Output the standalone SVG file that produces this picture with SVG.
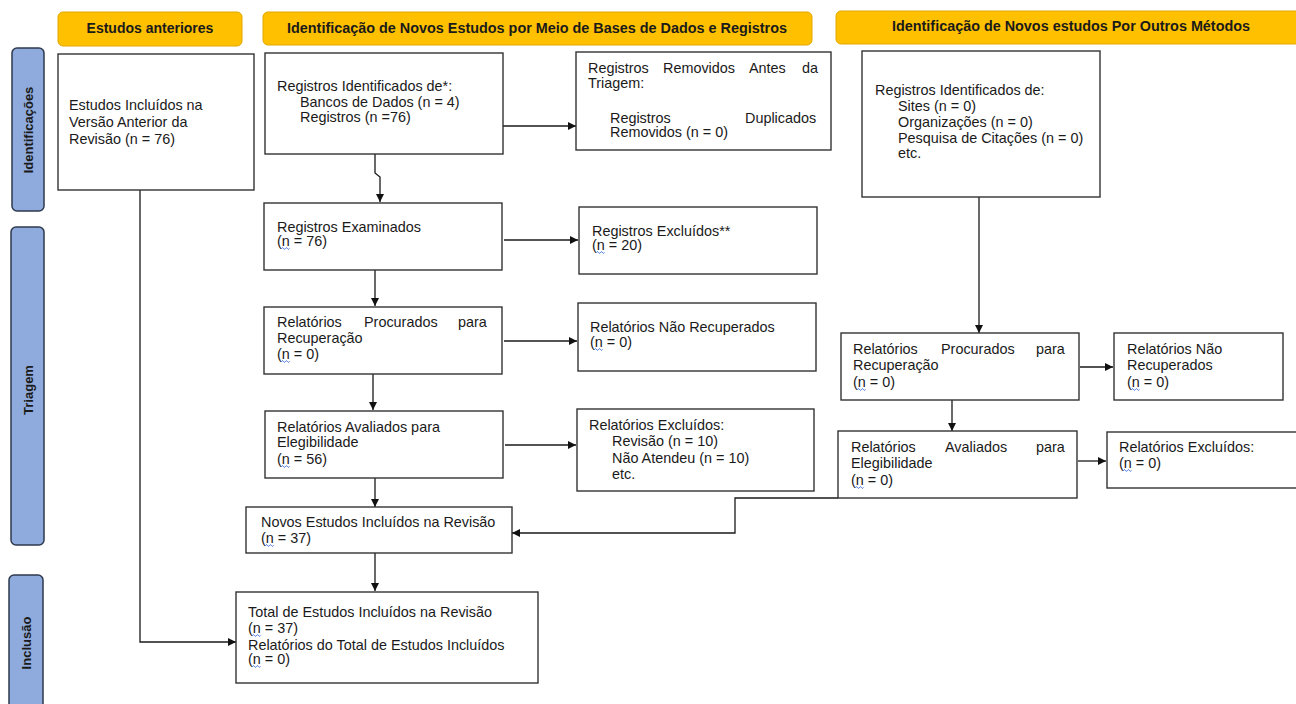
<svg xmlns="http://www.w3.org/2000/svg" xmlns:xlink="http://www.w3.org/1999/xlink" width="1296" height="704" viewBox="0 0 1296 704">
<style>
text{font-family:"Liberation Sans",Arial,sans-serif;fill:#1a1a1a}
.t{font-size:14.4px}
.h{font-size:14px;font-weight:bold;text-anchor:middle}
.s{font-size:13px;font-weight:bold;text-anchor:middle;dominant-baseline:central}
.box{fill:#fff;stroke:#333;stroke-width:1.4}
.hdr{fill:#FFC000;stroke:#E0A800;stroke-width:1}
.side{fill:#8FAADC;stroke:#2E3A4E;stroke-width:1.5}
.c{fill:none;stroke:#1a1a1a;stroke-width:1.3}
.sq{fill:none;stroke:#2B5FD9;stroke-width:0.9}
</style>
<defs>
<marker id="ah" viewBox="0 0 10 10" refX="10" refY="5" markerWidth="8" markerHeight="8" markerUnits="userSpaceOnUse" orient="auto">
<path d="M0,0 L10,5 L0,10 z" fill="#111"/>
</marker>
<path id="sqg" class="sq" d="M0,0 q1,-1.6 2,0 t2,0 t2,0 t2,0"/>
</defs>
<rect width="1296" height="704" fill="#fff"/>

<g id="headers">
<g id="h1"><rect class="hdr" x="58" y="12" width="184" height="34" rx="5"/><text class="h" x="150" y="33">Estudos anteriores</text></g>
<g id="h2"><rect class="hdr" x="263" y="12" width="549" height="33" rx="5"/><text class="h" x="537" y="33" textLength="500" lengthAdjust="spacingAndGlyphs">Identificação de Novos Estudos por Meio de Bases de Dados e Registros</text></g>
<g id="h3"><rect class="hdr" x="836" y="11" width="474" height="33" rx="5"/><text class="h" x="1071" y="31" textLength="358" lengthAdjust="spacingAndGlyphs">Identificação de Novos estudos Por Outros Métodos</text></g>
</g>

<g id="sides">
<g id="s1"><rect class="side" x="12" y="48" width="32" height="163" rx="5"/><text class="s" transform="translate(28,130) rotate(-90)">Identificações</text></g>
<g id="s2"><rect class="side" x="11" y="227" width="33" height="318" rx="5"/><text class="s" transform="translate(28,390) rotate(-90)">Triagem</text></g>
<g id="s3"><rect class="side" x="9" y="575" width="34" height="140" rx="5"/><text class="s" transform="translate(26,643) rotate(-90)">Inclusão</text></g>
</g>

<g id="connectors">
<path class="c" d="M140,190 V642 H236" marker-end="url(#ah)"/>
<path class="c" d="M375,154 V173 L380,177 V202" marker-end="url(#ah)"/>
<path class="c" d="M503,126 H576" marker-end="url(#ah)"/>
<path class="c" d="M504,240 H578" marker-end="url(#ah)"/>
<path class="c" d="M375,270 V306" marker-end="url(#ah)"/>
<path class="c" d="M504,341 H577" marker-end="url(#ah)"/>
<path class="c" d="M373,374 V410" marker-end="url(#ah)"/>
<path class="c" d="M505,445 H576" marker-end="url(#ah)"/>
<path class="c" d="M375,478 V507" marker-end="url(#ah)"/>
<path class="c" d="M375,553 V591" marker-end="url(#ah)"/>
<path class="c" d="M979,197 V333" marker-end="url(#ah)"/>
<path class="c" d="M1080,367 H1113" marker-end="url(#ah)"/>
<path class="c" d="M952,400 V431" marker-end="url(#ah)"/>
<path class="c" d="M1078,461 H1106" marker-end="url(#ah)"/>
<path class="c" d="M838,498 H735 V533 H512" marker-end="url(#ah)"/>
</g>

<g id="b1"><rect class="box" x="58" y="54" width="196" height="136"/>
<text class="t"><tspan x="69" y="110">Estudos Incluídos na</tspan><tspan x="69" y="127">Versão Anterior da</tspan><tspan x="69" y="144">Revisão (n = 76)</tspan></text></g>

<g id="b2"><rect class="box" x="265" y="53" width="238" height="101"/>
<text class="t"><tspan x="277" y="91">Registros Identificados de*:</tspan><tspan x="300" y="106.5">Bancos de Dados (n = 4)</tspan><tspan x="300" y="122">Registros (n =76)</tspan></text></g>

<g id="b3"><rect class="box" x="576" y="52" width="255" height="98"/>
<text class="t"><tspan x="588" y="73">Registros</tspan><tspan x="663" y="73">Removidos</tspan><tspan x="749" y="73">Antes</tspan><tspan x="802" y="73">da</tspan><tspan x="588" y="88">Triagem:</tspan><tspan x="610" y="123">Registros</tspan><tspan x="745" y="123">Duplicados</tspan><tspan x="610" y="137">Removidos (n = 0)</tspan></text></g>

<g id="b4"><rect class="box" x="862" y="51" width="238" height="146"/>
<text class="t"><tspan x="875" y="95">Registros Identificados de:</tspan><tspan x="898" y="111">Sites (n = 0)</tspan><tspan x="898" y="127">Organizações (n = 0)</tspan><tspan x="898" y="143">Pesquisa de Citações (n = 0)</tspan><tspan x="898" y="158">etc.</tspan></text></g>

<g id="b5"><rect class="box" x="264" y="203" width="238" height="67"/>
<text class="t"><tspan x="277" y="232">Registros Examinados</tspan><tspan x="277" y="246">(n = 76)</tspan></text><use xlink:href="#sqg" x="281.5" y="248.5"/></g>

<g id="b6"><rect class="box" x="579" y="207" width="238" height="67"/>
<text class="t"><tspan x="592" y="236">Registros Excluídos**</tspan><tspan x="592" y="250">(n = 20)</tspan></text><use xlink:href="#sqg" x="596.5" y="252.5"/></g>

<g id="b7"><rect class="box" x="264" y="307" width="238" height="67"/>
<text class="t"><tspan x="277" y="327">Relatórios</tspan><tspan x="364" y="327">Procurados</tspan><tspan x="458" y="327">para</tspan><tspan x="277" y="343">Recuperação</tspan><tspan x="277" y="359">(n = 0)</tspan></text><use xlink:href="#sqg" x="281.5" y="361.5"/></g>

<g id="b8"><rect class="box" x="578" y="303" width="238" height="68"/>
<text class="t"><tspan x="590" y="332">Relatórios Não Recuperados</tspan><tspan x="590" y="347">(n = 0)</tspan></text><use xlink:href="#sqg" x="594.5" y="349.5"/></g>

<g id="b9"><rect class="box" x="265" y="411" width="238" height="67"/>
<text class="t"><tspan x="277" y="432">Relatórios Avaliados para</tspan><tspan x="277" y="447">Elegibilidade</tspan><tspan x="277" y="464">(n = 56)</tspan></text><use xlink:href="#sqg" x="281.5" y="466.5"/></g>

<g id="b10"><rect class="box" x="577" y="409" width="237" height="82"/>
<text class="t"><tspan x="589" y="430">Relatórios Excluídos:</tspan><tspan x="612" y="446">Revisão (n = 10)</tspan><tspan x="612" y="463">Não Atendeu (n = 10)</tspan><tspan x="612" y="479">etc.</tspan></text></g>

<g id="b11"><rect class="box" x="841" y="333" width="238" height="67"/>
<text class="t"><tspan x="853" y="354">Relatórios</tspan><tspan x="941" y="354">Procurados</tspan><tspan x="1036" y="354">para</tspan><tspan x="853" y="370">Recuperação</tspan><tspan x="853" y="387">(n = 0)</tspan></text><use xlink:href="#sqg" x="857.5" y="389.5"/></g>

<g id="b12"><rect class="box" x="1114" y="333" width="169" height="67"/>
<text class="t"><tspan x="1127" y="354">Relatórios Não</tspan><tspan x="1127" y="370">Recuperados</tspan><tspan x="1127" y="387">(n = 0)</tspan></text><use xlink:href="#sqg" x="1131.5" y="389.5"/></g>

<g id="b13"><rect class="box" x="838" y="431" width="239" height="67"/>
<text class="t"><tspan x="851" y="452">Relatórios</tspan><tspan x="945" y="452">Avaliados</tspan><tspan x="1036" y="452">para</tspan><tspan x="851" y="468">Elegibilidade</tspan><tspan x="851" y="485">(n = 0)</tspan></text><use xlink:href="#sqg" x="855.5" y="487.5"/></g>

<g id="b14"><rect class="box" x="1107" y="432" width="200" height="56"/>
<text class="t"><tspan x="1119" y="452">Relatórios Excluídos:</tspan><tspan x="1119" y="468">(n = 0)</tspan></text><use xlink:href="#sqg" x="1123.5" y="470.5"/></g>

<g id="b15"><rect class="box" x="246" y="507" width="266" height="46"/>
<text class="t"><tspan x="261" y="527">Novos Estudos Incluídos na Revisão</tspan><tspan x="261" y="543">(n = 37)</tspan></text><use xlink:href="#sqg" x="265.5" y="545.5"/></g>

<g id="b16"><rect class="box" x="236" y="592" width="302" height="91"/>
<text class="t"><tspan x="248" y="617">Total de Estudos Incluídos na Revisão</tspan><tspan x="248" y="633">(n = 37)</tspan><tspan x="248" y="650">Relatórios do Total de Estudos Incluídos</tspan><tspan x="248" y="664">(n = 0)</tspan></text><use xlink:href="#sqg" x="252.5" y="635.5"/><use xlink:href="#sqg" x="252.5" y="666.5"/></g>
</svg>
